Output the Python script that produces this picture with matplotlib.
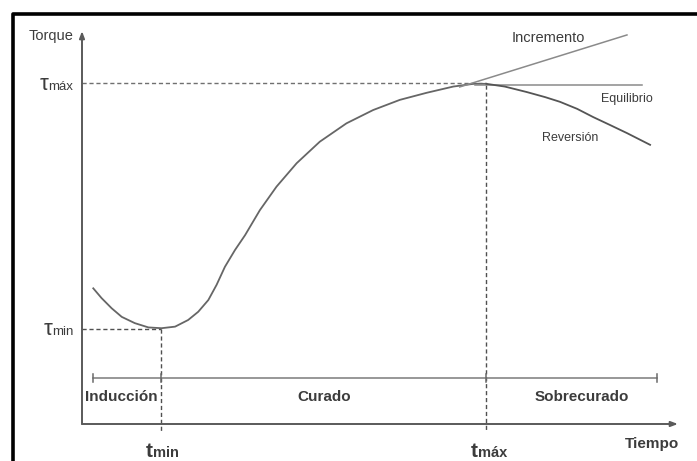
import matplotlib.pyplot as plt
from matplotlib.lines import Line2D

plt.rcParams['font.family'] = ['Liberation Sans', 'DejaVu Sans']

# curing curve (arbitrary units: time 0-100, torque 0-100)
time = [1.9, 3.3, 5.0, 6.7, 8.9, 11.2, 13.4, 15.7, 17.9, 19.6, 21.3, 22.7, 24.1,
        25.8, 27.5, 30.0, 32.8, 36.2, 40.1, 44.6, 49.1, 53.6, 58.1, 62.6, 66.0, 68.2]
torque = [34.7, 32.2, 29.6, 27.4, 25.8, 24.7, 24.5, 24.9, 26.6, 28.7, 31.7, 35.6, 40.2,
          44.5, 48.3, 54.7, 60.7, 66.7, 72.2, 76.9, 80.3, 82.9, 84.7, 86.3, 87.0, 87.0]

# behaviour after t_max
inc_t = [63.7, 91.9]
inc_y = [86.2, 99.5]
eq_t = [66.3, 94.4]
eq_y = [86.7, 86.7]
rev_t = [68.2, 71.3, 75.0, 78.1, 80.6, 83.5, 86.2, 89.0, 91.9, 95.8]
rev_y = [87.0, 86.3, 84.9, 83.6, 82.4, 80.6, 78.5, 76.5, 74.4, 71.4]

t_min, t_max = 13.4, 68.2
tq_min, tq_max = 24.4, 87.1
stages = ["Inducción", "Curado", "Sobrecurado"]
stage_x = [6.7, 40.8, 84.3]
bar_start, bar_end, bar_y = 1.9, 97.0, 11.8

W, H = 697, 461
fig = plt.figure(figsize=(W / 100, H / 100), dpi=100)
ax = fig.add_axes([82 / W, 37 / H, 593 / W, 391 / H])
ax.set_xlim(0, 100)
ax.set_ylim(0, 100)
ax.axis('off')

curve_c = '#666666'
text_c = '#3c3c3c'
dash_c = '#707070'

# axes with arrows
for end in [(0, 100.5), (100.5, 0)]:
    ax.annotate('', xy=end, xytext=(0, 0), annotation_clip=False,
                arrowprops=dict(arrowstyle='-|>,head_length=0.4,head_width=0.15',
                                color='#5a5a5a', lw=1.4, shrinkA=0, shrinkB=0))

# guide lines
ax.plot([0, t_max], [tq_max, tq_max], ls=(0, (3, 2)), color=dash_c, lw=1, clip_on=False)
ax.plot([0, t_min], [tq_min, tq_min], ls=(0, (3, 2)), color='#505050', lw=1, clip_on=False)
ax.plot([t_min, t_min], [tq_min, -2.0], ls=(0, (3, 2)), color='#505050', lw=1, clip_on=False)
ax.plot([t_max, t_max], [tq_max - 0.3, -2.0], ls=(0, (3, 2)), color='#505050', lw=1, clip_on=False)

# curves
ax.plot(time, torque, color=curve_c, lw=1.3, solid_joinstyle='round')
ax.plot(inc_t, inc_y, color='#8a8a8a', lw=1.1)
ax.plot(eq_t, eq_y, color='#8a8a8a', lw=1.1)
ax.plot(rev_t, rev_y, color='#555555', lw=1.3, solid_joinstyle='round')

# stage bar
ax.plot([bar_start, bar_end], [bar_y, bar_y], color='#7a7a7a', lw=1.1)
for x in [bar_start, t_min, t_max, bar_end]:
    ax.plot([x, x], [bar_y - 1.0, bar_y + 1.0], color='#6a6a6a', lw=1.1)
for name, x in zip(stages, stage_x):
    ax.text(x, 6.9, name, ha='center', va='center', fontsize=11,
            fontweight='bold', color=text_c)

# labels
ax.text(-1.5, 99.2, 'Torque', ha='right', va='center', fontsize=10.5, color=text_c)
for val, sub, off in [(tq_max, 'máx', -18), (tq_min, 'min', -15)]:
    ax.text(-1.5, val - 1.6, sub, ha='right', va='baseline', fontsize=9.5, color=text_c)
    ax.annotate('τ', xy=(-1.5, val - 1.6), xytext=(off, 0), textcoords='offset points',
                ha='right', va='baseline', fontsize=16, color=text_c,
                annotation_clip=False)

for val, sub in [(t_min, 'min'), (t_max, 'máx')]:
    ax.annotate('t', xy=(val, -8.5), xytext=(-6, 0), textcoords='offset points',
                ha='right', va='baseline', fontsize=15, fontweight='bold',
                color=text_c, annotation_clip=False)
    ax.annotate(sub, xy=(val, -8.5), xytext=(-6, 0), textcoords='offset points',
                ha='left', va='baseline', fontsize=10.5, fontweight='bold',
                color=text_c, annotation_clip=False)

ax.text(96.1, -5.1, 'Tiempo', ha='center', va='center', fontsize=11,
        fontweight='bold', color=text_c)
ax.text(78.6, 98.7, 'Incremento', ha='center', va='center', fontsize=10.5, color=text_c)
ax.text(91.9, 83.1, 'Equilibrio', ha='center', va='center', fontsize=9, color=text_c)
ax.text(82.3, 73.1, 'Reversión', ha='center', va='center', fontsize=9, color=text_c)

# frame border (left and top, cut by the image edges)
fig.add_artist(Line2D([13 / W, 13 / W, 1.0], [0, 1 - 14 / H, 1 - 14 / H],
                      color='black', lw=2.6))

fig.savefig('out.png', dpi=100)
